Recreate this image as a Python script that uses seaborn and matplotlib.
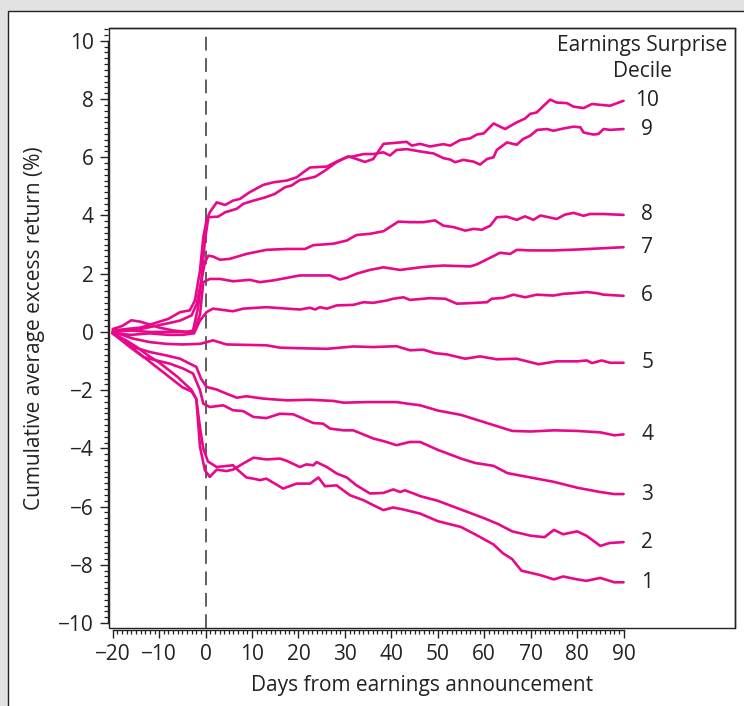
import numpy as np
import pandas as pd
import matplotlib
matplotlib.use("Agg")
import matplotlib.pyplot as plt
import seaborn as sns
from matplotlib.ticker import MultipleLocator, FixedLocator
from matplotlib.patches import Rectangle

sns.set_style("white")
plt.rcParams['font.family'] = ['Open Sans', 'DejaVu Sans']
plt.rcParams['axes.unicode_minus'] = True

# ---------------- data ----------------
d10_x = [-20, -17, -14, -11, -8, -5.5, -3.4, -2.3, -1.2, -0.5, 0.2, 0.9, 2.4, 4.2, 5.9, 7.4, 9.5, 12.4, 14.6,
         17.5, 19.6, 21.0, 22.5, 26.1, 28.2, 30.7, 32.5, 34.3, 36.1, 38.3, 41.9, 43.3, 44.4, 46.2, 48.3, 51.2,
         52.7, 54.8, 57.0, 58.4, 59.9, 62.0, 64.5, 67.0, 68.8, 69.9, 71.3, 72.8, 74.2, 75.6, 77.8, 79.2, 81.4,
         83.2, 85.0, 87.1, 90]
d10_y = [0.05, 0.1, 0.15, 0.3, 0.45, 0.68, 0.74, 1.08, 2.11, 3.25, 3.83, 4.11, 4.45, 4.36, 4.51, 4.57, 4.8, 5.05,
         5.14, 5.2, 5.31, 5.48, 5.65, 5.68, 5.85, 6.03, 5.94, 5.84, 5.94, 6.46, 6.51, 6.53, 6.40, 6.46, 6.37, 6.45,
         6.40, 6.59, 6.65, 6.78, 6.82, 7.16, 6.97, 7.20, 7.33, 7.49, 7.54, 7.77, 7.98, 7.88, 7.86, 7.74, 7.69,
         7.83, 7.80, 7.77, 7.94]

d9_x = [-20, -17, -14, -11, -8, -5.5, -3.0, -1.9, -0.9, -0.15, 0.6, 2.7, 4.2, 6.7, 8.1, 10.3, 12.8, 14.9, 17.1,
        18.5, 20.3, 21.7, 23.6, 25.7, 28.2, 30.4, 31.8, 34.0, 36.1, 38.3, 39.7, 41.1, 43.3, 46.2, 49.1, 51.2,
        52.7, 53.7, 55.5, 57.7, 59.1, 60.6, 62.0, 62.7, 64.9, 67.0, 68.4, 69.9, 71.4, 73.5, 74.9, 77.1, 79.2,
        80.7, 81.4, 83.5, 84.6, 85.7, 87.1, 90]
d9_y = [0.0, 0.05, 0.1, 0.2, 0.3, 0.39, 0.57, 0.97, 1.77, 3.14, 3.94, 3.96, 4.11, 4.23, 4.40, 4.51, 4.62, 4.74,
        4.97, 5.03, 5.22, 5.26, 5.33, 5.54, 5.83, 6.0, 6.03, 6.11, 6.11, 6.17, 6.06, 6.25, 6.28, 6.20, 6.13, 5.97,
        5.92, 5.83, 5.91, 5.85, 5.75, 5.94, 6.0, 6.25, 6.51, 6.43, 6.63, 6.74, 6.94, 6.97, 6.91, 6.99, 7.05,
        7.03, 6.85, 6.78, 6.80, 6.97, 6.94, 6.97]

d8_x = [-20, -18, -16, -14, -12, -10, -7, -4, -2.7, -1.6, -0.9, -0.15, 0.6, 1.6, 3.1, 5.2, 8.8, 13.1, 17.5, 21.4,
        23.2, 27.5, 30.4, 32.5, 35.4, 38.3, 41.5, 44.0, 46.9, 49.4, 51.2, 53.4, 55.9, 57.7, 59.5, 61.3, 62.7,
        64.9, 67.0, 68.8, 70.6, 72.1, 75.6, 77.4, 79.2, 81.4, 82.8, 85.7, 90]
d8_y = [0.1, 0.2, 0.4, 0.35, 0.25, 0.15, 0.05, 0.0, 0.05, 0.85, 1.77, 2.39, 2.62, 2.59, 2.48, 2.51, 2.68, 2.82,
        2.85, 2.85, 2.98, 3.03, 3.14, 3.33, 3.37, 3.46, 3.79, 3.77, 3.77, 3.83, 3.65, 3.60, 3.48, 3.54, 3.51,
        3.65, 3.94, 3.96, 3.85, 3.97, 3.85, 4.0, 3.88, 4.03, 4.09, 3.99, 4.05, 4.05, 4.02]

d7_x = [-20, -16, -12, -8, -5, -2.5, -1.2, -0.5, 0.9, 3.1, 5.9, 9.5, 11.7, 14.6, 20.3, 26.8, 28.9, 30.4, 32.5,
        35.4, 38.3, 41.9, 46.2, 48.3, 51.2, 57.0, 58.4, 61.3, 63.4, 65.6, 67.0, 69.9, 74.9, 80.0, 90]
d7_y = [0.0, 0.05, 0.0, 0.0, 0.0, 0.0, 0.6, 1.71, 1.82, 1.82, 1.74, 1.79, 1.71, 1.77, 1.94, 1.94, 1.80, 1.86,
        2.0, 2.13, 2.22, 2.13, 2.22, 2.25, 2.28, 2.25, 2.32, 2.55, 2.72, 2.68, 2.82, 2.80, 2.80, 2.83, 2.91]

d6_x = [-20, -16, -12, -8, -5, -2.5, -1.2, 0.2, 1.6, 5.9, 8.1, 13.1, 20.3, 22.5, 23.6, 24.6, 26.1, 28.2, 31.8,
        34.0, 36.1, 39.0, 40.4, 42.6, 44.0, 48.3, 51.6, 54.1, 57.0, 60.6, 61.6, 64.1, 66.3, 68.8, 71.3, 74.9,
        77.1, 79.2, 82.1, 84.3, 85.7, 90]
d6_y = [-0.05, -0.1, -0.05, -0.1, -0.1, -0.05, 0.39, 0.68, 0.80, 0.71, 0.80, 0.85, 0.77, 0.83, 0.77, 0.85, 0.80,
        0.91, 0.93, 1.02, 1.0, 1.08, 1.14, 1.19, 1.10, 1.16, 1.14, 0.97, 0.99, 1.02, 1.14, 1.17, 1.28, 1.19,
        1.28, 1.25, 1.31, 1.33, 1.37, 1.33, 1.28, 1.24]

d5_x = [-20, -18, -15.6, -12, -8.4, -5, -1.2, 0.2, 1.6, 4.5, 13.1, 16.0, 20.3, 26.1, 31.8, 36.1, 41.1, 44.0,
        46.9, 49.4, 51.9, 55.9, 59.1, 62.7, 67.0, 71.7, 75.6, 80.0, 82.1, 83.2, 85.3, 87.1, 90]
d5_y = [0.0, -0.1, -0.23, -0.35, -0.41, -0.43, -0.41, -0.35, -0.29, -0.43, -0.46, -0.54, -0.56, -0.58, -0.50,
        -0.52, -0.49, -0.63, -0.61, -0.73, -0.77, -0.92, -0.84, -0.94, -0.92, -1.11, -1.01, -1.01, -0.98, -1.07,
        -0.98, -1.06, -1.06]

d4_x = [-20, -18, -15.6, -12, -8.4, -5.5, -3.4, -2, -1, 0.2, 2.4, 4.5, 6.7, 8.8, 12.4, 17.5, 22.5, 27.5, 29.7,
        34.7, 41.1, 43.3, 46.2, 50, 55, 58, 62, 66, 70, 75, 80, 85, 88, 90]
d4_y = [-0.05, -0.25, -0.52, -0.69, -0.81, -0.92, -1.09, -1.2, -1.6, -1.89, -1.98, -2.12, -2.26, -2.21, -2.29,
        -2.35, -2.33, -2.37, -2.43, -2.41, -2.41, -2.46, -2.52, -2.7, -2.85, -3.0, -3.2, -3.4, -3.42, -3.38,
        -3.4, -3.45, -3.55, -3.52]

d3_x = [-20, -18, -16.3, -13.4, -10.6, -7.7, -4.8, -2.7, -1.2, -0.5, 0.9, 3.8, 5.9, 8.1, 10.3, 13.1, 16.0, 18.9,
        23.2, 25.3, 26.8, 29.7, 31.8, 36.1, 38.3, 41.1, 44.0, 46.2, 50, 55, 58, 62, 65, 70, 75, 80, 85, 88, 90]
d3_y = [-0.05, -0.3, -0.52, -0.86, -0.98, -1.09, -1.26, -1.43, -2.0, -2.46, -2.58, -2.52, -2.69, -2.72, -2.92,
        -2.96, -2.81, -2.83, -3.13, -3.15, -3.32, -3.38, -3.38, -3.66, -3.75, -3.89, -3.78, -3.78, -4.05, -4.35,
        -4.5, -4.6, -4.85, -5.0, -5.15, -5.35, -5.5, -5.57, -5.57]

d2_x = [-20, -17, -15, -12, -10, -8, -6, -4, -3, -2, -1.2, -0.15, 0.9, 2.4, 4.5, 5.9, 8.1, 10.3, 13.1, 16.0,
        17.5, 20.3, 21.7, 23.2, 23.9, 26.1, 28.2, 30.4, 32.5, 35.4, 38.3, 40.4, 41.9, 42.9, 44.8, 46.2, 50, 55,
        60, 63, 66, 70, 73, 75, 77, 80, 82, 85, 87, 90]
d2_y = [-0.05, -0.3, -0.5, -0.85, -1.05, -1.3, -1.55, -1.85, -2.0, -2.3, -3.95, -4.75, -4.98, -4.73, -4.78,
        -4.73, -4.52, -4.32, -4.38, -4.35, -4.43, -4.64, -4.55, -4.58, -4.47, -4.64, -4.86, -5.0, -5.27, -5.55,
        -5.53, -5.41, -5.50, -5.44, -5.55, -5.64, -5.8, -6.1, -6.4, -6.6, -6.85, -7.0, -7.05, -6.8, -6.95,
        -6.85, -7.0, -7.35, -7.25, -7.22]

d1_x = [-20, -17, -15, -13, -11, -9, -7, -5, -3, -2, -1.2, -0.5, 0.5, 2.4, 5.9, 7.0, 8.8, 10.3, 11.7, 13.1, 16.7,
        19.6, 22.5, 24.3, 25.7, 28.2, 31.1, 34.0, 36.1, 38.3, 40.4, 42.6, 46.2, 50, 55, 58, 62, 64, 66, 68, 72,
        75, 77, 80, 82, 85, 88, 90]
d1_y = [-0.05, -0.4, -0.65, -0.9, -1.15, -1.4, -1.65, -1.9, -2.05, -2.3, -3.3, -4.0, -4.45, -4.64, -4.58, -4.75,
        -5.0, -5.04, -5.09, -5.04, -5.38, -5.21, -5.21, -5.0, -5.30, -5.27, -5.61, -5.78, -5.95, -6.12, -6.03,
        -6.10, -6.24, -6.5, -6.7, -6.95, -7.3, -7.6, -7.8, -8.2, -8.35, -8.5, -8.4, -8.5, -8.55, -8.45, -8.6,
        -8.6]

deciles = [10, 9, 8, 7, 6, 5, 4, 3, 2, 1]
series_x = [d10_x, d9_x, d8_x, d7_x, d6_x, d5_x, d4_x, d3_x, d2_x, d1_x]
series_y = [d10_y, d9_y, d8_y, d7_y, d6_y, d5_y, d4_y, d3_y, d2_y, d1_y]

x_ticks = [-20, -10, 0, 10, 20, 30, 40, 50, 60, 70, 80, 90]
y_ticks = [-10, -8, -6, -4, -2, 0, 2, 4, 6, 8, 10]

frames = []
for dec, xs, ys in zip(deciles, series_x, series_y):
    frames.append(pd.DataFrame({"day": xs, "ret": ys, "decile": dec}))
df = pd.concat(frames, ignore_index=True)

# ---------------- figure ----------------
MAG = "#e8088a"
FS = 15
W, H = 744, 706
fig = plt.figure(figsize=(W / 100, H / 100), dpi=100, facecolor="#e2e2e2")
panel = Rectangle((8 / W, -0.1), 1.2, 1 - 11 / H + 0.1, transform=fig.transFigure,
                  facecolor="white", edgecolor="#222222", lw=1.0, zorder=-10)
fig.patches.append(panel)

ax = fig.add_axes([109 / W, 1 - 628 / H, 626 / W, 600 / H])
ax.set_zorder(1)
ax.set_facecolor("white")

sns.lineplot(data=df, x="day", y="ret", hue="decile", estimator=None, sort=False,
             palette={d: MAG for d in deciles}, legend=False, lw=1.9, ax=ax)

ax.axvline(0, color="#333333", lw=1.1, dashes=(9, 5), zorder=1)

ax.set_xlim(-20.8, 114.0)
ax.set_ylim(-10.17, 10.44)

ax.xaxis.set_major_locator(FixedLocator(x_ticks))
ax.xaxis.set_minor_locator(FixedLocator(np.arange(x_ticks[0], x_ticks[-1] + 1, 1)))
ax.yaxis.set_major_locator(FixedLocator(y_ticks))
ax.yaxis.set_minor_locator(MultipleLocator(0.2))

ax.tick_params(which="major", direction="out", length=6, width=1.0, color="#222222",
               labelsize=FS, pad=4, labelcolor="#222222")
ax.tick_params(which="minor", direction="out", length=3, width=0.9, color="#222222")
ax.tick_params(axis="x", which="both", bottom=True, top=False)
ax.tick_params(axis="y", which="both", left=True, right=False)

for s in ["top", "right", "bottom", "left"]:
    ax.spines[s].set_visible(True)
    ax.spines[s].set_color("#222222")
    ax.spines[s].set_linewidth(1.0)
ax.spines["bottom"].set_position(("outward", 1.5))
ax.spines["bottom"].set_bounds(x_ticks[0], x_ticks[-1])
ax.spines["left"].set_position(("outward", 1.0))
ax.spines["left"].set_bounds(y_ticks[0], y_ticks[-1])
ax.add_patch(Rectangle((0, 0), 1, 1, transform=ax.transAxes, fill=False,
                       edgecolor="#222222", lw=1.0, clip_on=False, zorder=5))

ax.set_xlabel("Days from earnings announcement", fontsize=FS, color="#222222", labelpad=7)
ax.set_ylabel("Cumulative average excess return (%)", fontsize=FS, color="#222222", labelpad=9)

for dec, ys in zip(deciles, series_y):
    ax.text(95.1, ys[-1], str(dec), ha="center", va="center", fontsize=FS, color="#222222", clip_on=False)

ax.text(94.0, 9.83, "Earnings Surprise", ha="center", va="center", fontsize=FS, color="#222222")
ax.text(94.0, 8.94, "Decile", ha="center", va="center", fontsize=FS, color="#222222")

fig.savefig("out.png", dpi=100, facecolor=fig.get_facecolor())
